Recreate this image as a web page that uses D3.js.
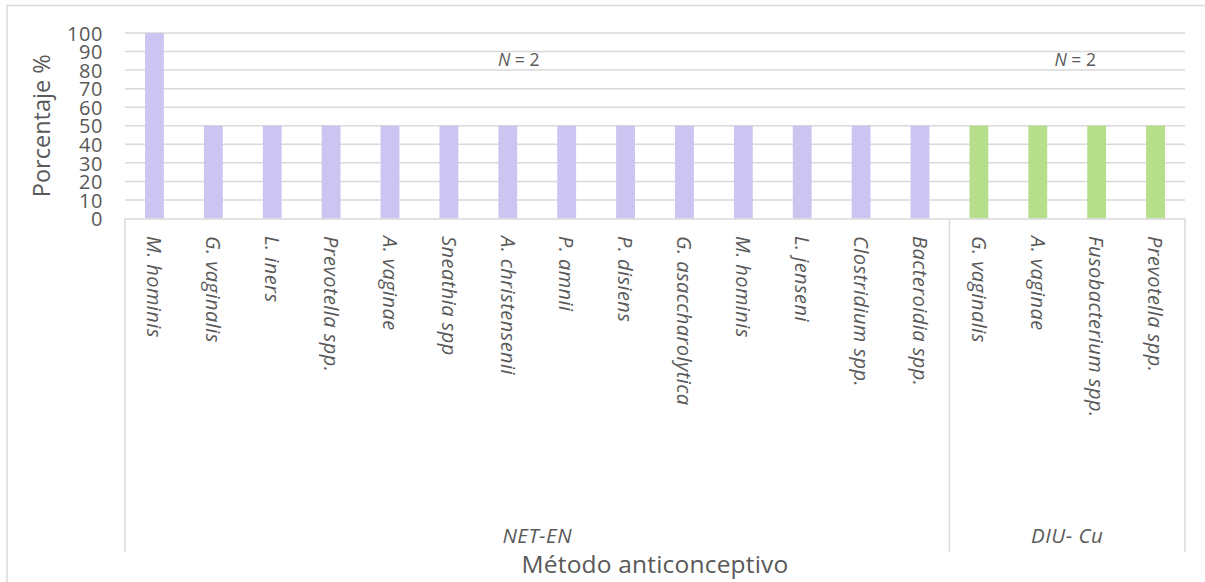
<!DOCTYPE html>
<html>
<head>
<meta charset="utf-8">
<script src="https://cdn.jsdelivr.net/npm/d3@7"></script>
<style>
  html, body { margin: 0; padding: 0; background: #fff; }
  svg { display: block; }
  text { font-family: "Open Sans", Lato, sans-serif; fill: #595959; }
</style>
</head>
<body>
<svg id="chart" width="1205" height="582"></svg>
<script>
// Microorganisms detected per contraceptive method
const categories = [
  "M. hominis", "G. vaginalis", "L. iners", "Prevotella spp.", "A. vaginae",
  "Sneathia spp", "A. christensenii", "P. amnii", "P. disiens", "G. asaccharolytica",
  "M. hominis", "L. jenseni", "Clostridium spp.", "Bacteroidia spp.",
  "G. vaginalis", "A. vaginae", "Fusobacterium spp.", "Prevotella spp."
];
const groups = ["NET-EN", "NET-EN", "NET-EN", "NET-EN", "NET-EN", "NET-EN", "NET-EN",
  "NET-EN", "NET-EN", "NET-EN", "NET-EN", "NET-EN", "NET-EN", "NET-EN",
  "DIU- Cu", "DIU- Cu", "DIU- Cu", "DIU- Cu"];
const values = [100, 50, 50, 50, 50, 50, 50, 50, 50, 50, 50, 50, 50, 50, 50, 50, 50, 50];
const groupNames = ["NET-EN", "DIU- Cu"];
const groupColors = ["#ccc5f2", "#b6de8b"];
const sampleNotes = ["N = 2", "N = 2"];
const yTicks = [0, 10, 20, 30, 40, 50, 60, 70, 80, 90, 100];

const svg = d3.select("#chart");
const W = 1205, H = 582;
const plotLeft = 125, plotRight = 1185, plotTop = 33, plotBottom = 218.5;
const catBottom = 552;
const noteShift = [-18.5, 8];   // text boxes sit slightly off the group centres

// chart frame
svg.append("rect")
  .attr("x", 7).attr("y", 5.5).attr("width", W + 10).attr("height", H + 10)
  .attr("fill", "none").attr("stroke", "#d9d9d9").attr("stroke-width", 1.5);

const keys = categories.map((c, i) => i);
const x = d3.scaleBand().domain(keys).range([plotLeft, plotRight]).paddingInner(0.68).paddingOuter(0.34);
const step = (plotRight - plotLeft) / categories.length;
const y = d3.scaleLinear().domain([0, 100]).range([plotBottom, plotTop]);

// gridlines
svg.append("g")
  .selectAll("line").data(yTicks.filter(d => d > 0)).join("line")
  .attr("x1", plotLeft).attr("x2", plotRight)
  .attr("y1", d => y(d)).attr("y2", d => y(d))
  .attr("stroke", "#d9d9d9").attr("stroke-width", 1.5);

// y axis labels
const yAxis = d3.axisLeft(y).tickValues(yTicks).tickSize(0).tickPadding(0);
const gy = svg.append("g").attr("transform", `translate(${plotLeft - 22},0)`).call(yAxis);
gy.select(".domain").remove();
gy.selectAll("text")
  .attr("font-size", 20).attr("fill", "#595959")
  .style("font-family", "'Open Sans', sans-serif")
  .attr("letter-spacing", 0.6)
  .attr("dy", "0.36em");

// bars
const colorOf = g => groupColors[groupNames.indexOf(g)];
svg.append("g")
  .selectAll("rect").data(values).join("rect")
  .attr("x", (d, i) => x(i))
  .attr("width", x.bandwidth())
  .attr("y", d => y(d))
  .attr("height", d => y(0) - y(d))
  .attr("fill", (d, i) => colorOf(groups[i]));

// category axis line and group separators
svg.append("line")
  .attr("x1", plotLeft).attr("x2", plotRight).attr("y1", plotBottom + 0.5).attr("y2", plotBottom + 0.5)
  .attr("stroke", "#d9d9d9").attr("stroke-width", 1.5);

const groupSpans = groupNames.map(g => {
  const idx = groups.map((v, i) => v === g ? i : -1).filter(i => i >= 0);
  return { name: g, start: plotLeft + idx[0] * step, end: plotLeft + (idx[idx.length - 1] + 1) * step };
});
const edges = [plotLeft, ...groupSpans.map(s => s.end)];
svg.append("g")
  .selectAll("line").data(edges).join("line")
  .attr("x1", d => d).attr("x2", d => d)
  .attr("y1", plotBottom).attr("y2", catBottom)
  .attr("stroke", "#d9d9d9").attr("stroke-width", 1.5);

// category labels, rotated
svg.append("g")
  .selectAll("text").data(categories).join("text")
  .attr("transform", (d, i) => `translate(${x(i) + x.bandwidth() / 2},236) rotate(90)`)
  .attr("dy", "0.36em")
  .attr("font-size", 20).attr("font-style", "italic")
  .attr("letter-spacing", 0.45)
  .text(d => d);

// group labels
svg.append("g")
  .selectAll("text").data(groupSpans).join("text")
  .attr("x", d => (d.start + d.end) / 2).attr("y", 543)
  .attr("text-anchor", "middle")
  .attr("font-size", 20.5).attr("font-style", "italic")
  .attr("letter-spacing", 0.5)
  .text(d => d.name);

// sample size notes
svg.append("g")
  .selectAll("text").data(groupSpans).join("text")
  .attr("x", (d, i) => (d.start + d.end) / 2 + noteShift[i]).attr("y", 66)
  .attr("text-anchor", "middle")
  .attr("font-size", 17.5)
  .each(function (d, i) {
    const t = d3.select(this);
    const parts = sampleNotes[i].split(" ");
    t.append("tspan").attr("font-style", "italic").text(parts[0]);
    t.append("tspan").text(" " + parts.slice(1).join(" "));
  });

// axis titles
svg.append("text")
  .attr("transform", `translate(50,${(plotTop + plotBottom) / 2}) rotate(-90)`)
  .attr("text-anchor", "middle")
  .attr("font-size", 23.5)
  .text("Porcentaje %");

svg.append("text")
  .attr("x", (plotLeft + plotRight) / 2).attr("y", 573)
  .attr("text-anchor", "middle")
  .attr("font-size", 24.5)
  .attr("letter-spacing", 0.2)
  .text("Método anticonceptivo");
</script>
</body>
</html>
